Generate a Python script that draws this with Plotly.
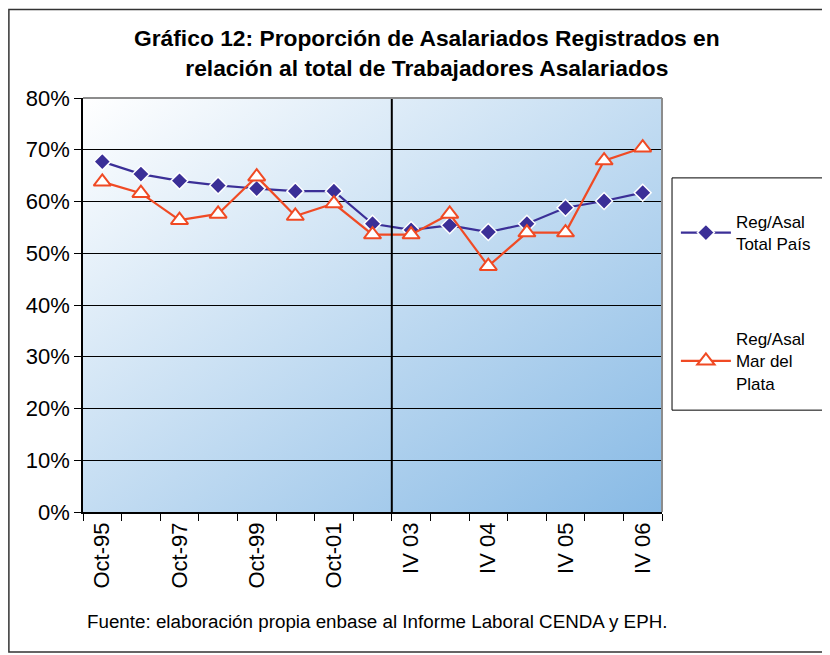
import base64
import plotly.graph_objects as go

# Datos
categorias = ['Oct-95', 'Oct-96', 'Oct-97', 'Oct-98', 'Oct-99', 'Oct-00', 'Oct-01', 'Oct-02',
              'IV 03', 'II 04', 'IV 04', 'II 05', 'IV 05', 'II 06', 'IV 06']
etiquetas = ['Oct-95', '', 'Oct-97', '', 'Oct-99', '', 'Oct-01', '',
             'IV 03', '', 'IV 04', '', 'IV 05', '', 'IV 06']
total_pais = [0.677, 0.653, 0.640, 0.631, 0.625, 0.620, 0.620, 0.557,
              0.545, 0.554, 0.541, 0.557, 0.588, 0.601, 0.617]
mar_del_plata = [0.638, 0.616, 0.564, 0.576, 0.648, 0.572, 0.596, 0.536,
                 0.536, 0.576, 0.475, 0.540, 0.540, 0.679, 0.704]

AZUL = '#3B2F97'
ROJO = '#F04A24'
FUENTE = 'Liberation Sans, Arial, sans-serif'

# fondo degradado (svg) para el area del grafico
svg = ('<svg xmlns="http://www.w3.org/2000/svg" width="100" height="100" preserveAspectRatio="none">'
       '<defs><linearGradient id="g" x1="0" y1="0" x2="1" y2="1">'
       '<stop offset="0" stop-color="#FFFFFF"/><stop offset="1" stop-color="#88BAE5"/>'
       '</linearGradient></defs><rect width="100" height="100" fill="url(#g)"/></svg>')
fondo = 'data:image/svg+xml;base64,' + base64.b64encode(svg.encode()).decode()

fig = go.Figure()
fig.add_trace(go.Scatter(x=categorias, y=total_pais, mode='lines+markers',
                         name='Reg/Asal<br>Total País', legendgroup='a',
                         line=dict(color=AZUL, width=2.2),
                         marker=dict(symbol='diamond', size=13, color=AZUL, line=dict(color='white', width=1.5))))
fig.add_trace(go.Scatter(x=categorias, y=mar_del_plata, mode='lines+markers',
                         name='Reg/Asal<br>Mar del<br>Plata', legendgroup='b',
                         line=dict(color=ROJO, width=2.2),
                         marker=dict(symbol='triangle-up', size=15, color='white', line=dict(color=ROJO, width=2))))

# linea divisoria entre series Oct y trimestrales
fig.add_shape(type='line', xref='x', yref='y', x0=7.5, x1=7.5, y0=0, y1=0.8,
              line=dict(color='black', width=2), layer='above')
# bordes superior y derecho del area
fig.add_shape(type='line', xref='paper', yref='paper', x0=0, x1=1, y0=1, y1=1,
              line=dict(color='#8C8C8C', width=2))
fig.add_shape(type='line', xref='paper', yref='paper', x0=1, x1=1, y0=0, y1=1,
              line=dict(color='#8C8C8C', width=2))
# recuadro de la leyenda
fig.add_shape(type='rect', xref='paper', yref='paper', x0=1.0173, x1=1.30, y0=0.246, y1=0.807,
              line=dict(color='black', width=1), fillcolor='white', layer='below')
# marco exterior
fig.add_shape(type='rect', xref='paper', yref='paper', x0=-0.128, x1=1.283, y0=-0.338, y1=1.214,
              line=dict(color='#333333', width=1.5))

fig.add_layout_image(source=fondo, xref='paper', yref='paper', x=0, y=1, sizex=1, sizey=1,
                     sizing='stretch', layer='below', xanchor='left', yanchor='top')

fig.add_annotation(text='<b>Gráfico 12: Proporción de Asalariados Registrados en</b><br><b>relación al total de Trabajadores Asalariados</b>',
                   xref='paper', yref='paper', x=0.594, y=1.108, xanchor='center', yanchor='middle',
                   showarrow=False, font=dict(family=FUENTE, size=22.8, color='black'))
fig.add_annotation(text='Fuente: elaboración propia enbase al Informe Laboral CENDA y EPH.',
                   xref='paper', yref='paper', x=0.508, y=-0.2657, xanchor='center', yanchor='middle',
                   showarrow=False, font=dict(family=FUENTE, size=18.8, color='black'))

fig.update_layout(
    width=822, height=647,
    margin=dict(l=75, r=168, t=90, b=143),
    paper_bgcolor='white', plot_bgcolor='rgba(0,0,0,0)',
    font=dict(family=FUENTE, color='black'),
    showlegend=True,
    legend=dict(x=1.024, y=0.744, xanchor='left', yanchor='top', bgcolor='rgba(0,0,0,0)',
                font=dict(family=FUENTE, size=17), tracegroupgap=70, itemwidth=50),
    xaxis=dict(type='category', tickmode='array', tickvals=categorias, ticktext=etiquetas,
               tickangle=-90, tickfont=dict(size=22), tickson='boundaries', ticks='outside',
               ticklen=7, tickcolor='black', showline=True, linecolor='black', linewidth=1.5,
               showgrid=False, range=[-0.5, 14.5]),
    yaxis=dict(range=[0, 0.8], dtick=0.1, tickformat='.0%', tickfont=dict(size=22),
               ticks='outside', ticklen=7, tickcolor='black', showline=True, linecolor='black',
               linewidth=1.5, showgrid=True, gridcolor='black', gridwidth=1, zeroline=False),
)

fig.write_html('out.html')
